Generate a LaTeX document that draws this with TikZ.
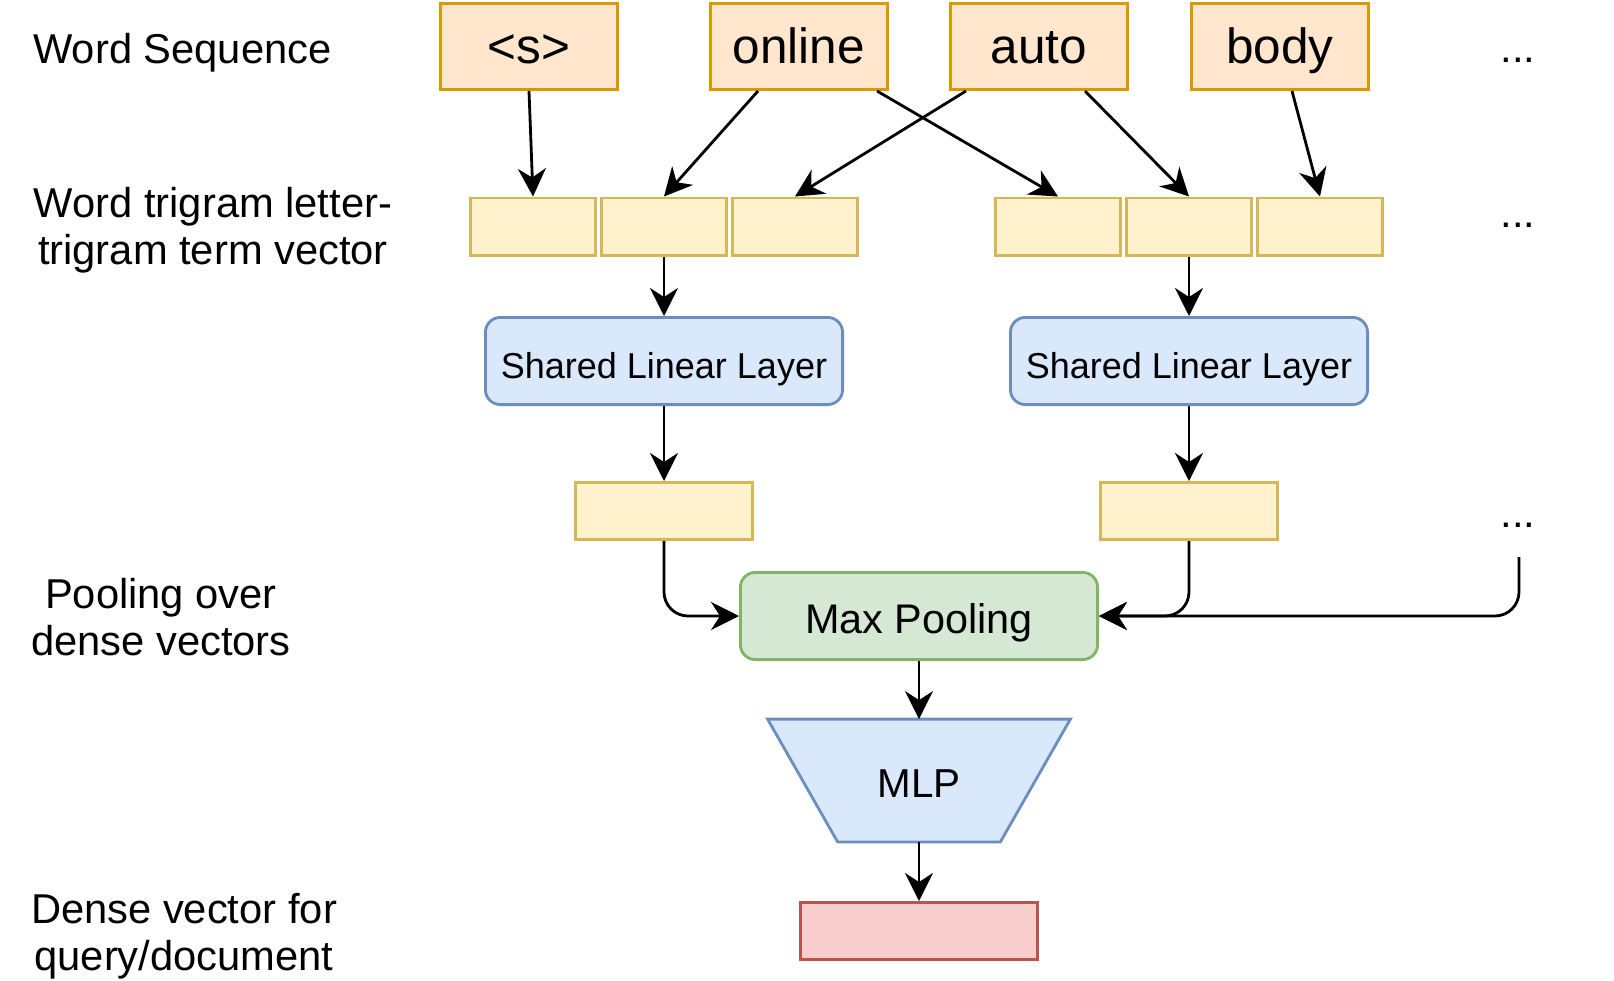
\documentclass[tikz,border=0pt]{standalone}
\usepackage{fontspec}
\setmainfont{Liberation Sans}
\usetikzlibrary{arrows.meta,backgrounds}

\definecolor{wordfill}{HTML}{FFE6CC}
\definecolor{wordline}{HTML}{D79B00}
\definecolor{vecfill}{HTML}{FFF2CC}
\definecolor{vecline}{HTML}{D6B656}
\definecolor{bluefill}{HTML}{DAE8FC}
\definecolor{blueline}{HTML}{6C8EBF}
\definecolor{greenfill}{HTML}{D5E8D4}
\definecolor{greenline}{HTML}{82B366}
\definecolor{redfill}{HTML}{F8CECC}
\definecolor{redline}{HTML}{B85450}

\tikzset{
  box/.style={line width=1.4pt, inner sep=0pt, text height=19pt, text depth=2pt},
  word/.style={box, draw=wordline, fill=wordfill, minimum width=88.6pt, minimum height=43.1pt, font=\fontsize{24.75}{29}\selectfont},
  cell/.style={box, draw=vecline, fill=vecfill, minimum width=62.6pt, minimum height=28.6pt},
  dense/.style={cell, minimum width=88.6pt},
  layer/.style={box, draw=blueline, fill=bluefill, rounded corners=7.5pt, minimum width=178.6pt, minimum height=43.6pt, font=\fontsize{18}{21}\selectfont},
  pool/.style={box, draw=greenline, fill=greenfill, rounded corners=7.5pt, minimum width=178.6pt, minimum height=43.6pt, font=\fontsize{20.7}{24}\selectfont},
  mlpbox/.style={box, minimum width=150pt, minimum height=60pt, font=\fontsize{20.2}{24}\selectfont},
  outvec/.style={box, draw=redline, fill=redfill, minimum width=118.6pt, minimum height=28.6pt},
  tag/.style={align=center, font=\fontsize{20.85}{23.5}\selectfont, inner sep=0pt},
  conn/.style={-{Stealth[length=14pt, width=14pt, inset=4.5pt]}, line width=1.4pt},
}

\begin{document}
\begin{tikzpicture}[x=0.5pt, y=-0.5pt]
  \useasboundingbox (0,0) rectangle (1614,981);

  % row labels
  \node[tag, anchor=base] (lseq) at (182.5,63) {Word Sequence};
  \node[tag] (ltri) at (213,230.6) {Word trigram letter-\\trigram term vector};
  \node[tag] (lpool) at (161,617) {Pooling over\\dense vectors};
  \node[tag] (ldense) at (184,936) {Dense vector for\\query/document};

  % word sequence
  \node[word] (ws) at (529,46.5) {<s>};
  \node[word] (wonline) at (799,46.5) {online};
  \node[word] (wauto) at (1039,46.5) {auto};
  \node[word] (wbody) at (1280,46.5) {body};

  % letter-trigram vectors
  \node[cell] (tl1) at (533,226.5) {};
  \node[cell] (tl2) at (664,226.5) {};
  \node[cell] (tl3) at (795,226.5) {};
  \node[cell] (tr1) at (1058,226.5) {};
  \node[cell] (tr2) at (1189,226.5) {};
  \node[cell] (tr3) at (1320,226.5) {};

  \node[layer] (ll) at (664,361) {Shared Linear Layer};
  \node[layer] (lr) at (1189,361) {Shared Linear Layer};
  \node[dense] (dl) at (664,511) {};
  \node[dense] (dr) at (1189,511) {};

  \node[pool] (pool) at (919,616) {Max Pooling};
  \node[mlpbox] (mlp) at (919,780.5) {MLP};
  \begin{scope}[on background layer]
    \filldraw[draw=blueline, fill=bluefill, line width=1.4pt] (mlp.north west) -- (mlp.north east)
      -- ([xshift=-35pt]mlp.south east) -- ([xshift=35pt]mlp.south west) -- cycle;
  \end{scope}
  \node[outvec] (qd) at (919,931) {};

  % more words
  \node[tag, anchor=base] (more1) at (1518,62.5) {...};
  \node[tag, anchor=base] (more2) at (1518,227.5) {...};
  \node[tag, anchor=base] (more3) at (1518,527.5) {...};
  \coordinate (more) at (1519,557);

  \draw[conn] (ws.south) -- (tl1.north);
  \draw[conn] ([xshift=-20.5pt]wonline.south) -- (tl2.north);
  \draw[conn] ([xshift=-36.5pt]wauto.south) -- (tl3.north);
  \draw[conn] ([xshift=39pt]wonline.south) -- (tr1.north);
  \draw[conn] ([xshift=23pt]wauto.south) -- (tr2.north);
  \draw[conn] ([xshift=6pt]wbody.south) -- (tr3.north);

  \draw[conn] (tl2.south) -- (ll.north);
  \draw[conn] (ll.south) -- (dl.north);
  \draw[conn] (tr2.south) -- (lr.north);
  \draw[conn] (lr.south) -- (dr.north);

  \draw[conn, rounded corners=12pt] (dl.south) |- (pool.west);
  \draw[conn, rounded corners=12pt] (dr.south) |- (pool.east);
  \draw[conn, rounded corners=12pt] (more) |- (pool.east);
  \draw[conn] (pool) -- (mlp);
  \draw[conn] (mlp) -- (qd);
\end{tikzpicture}
\end{document}
